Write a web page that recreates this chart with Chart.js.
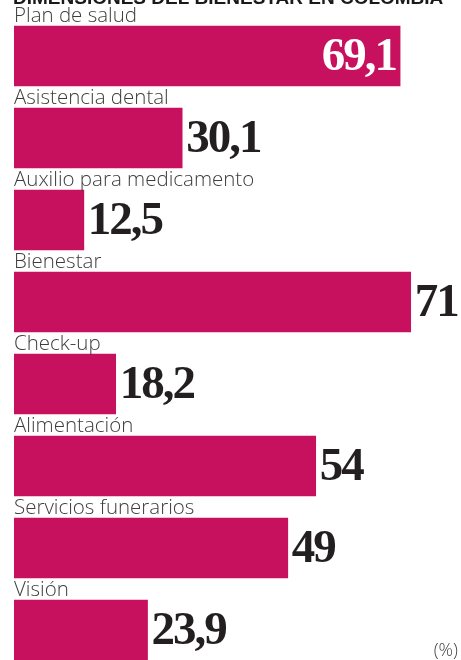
<!DOCTYPE html>
<html>
<head>
<meta charset="utf-8">
<script src="https://cdn.jsdelivr.net/npm/chart.js@4/dist/chart.umd.min.js"></script>
<style>
  html, body { margin: 0; padding: 0; background: #fff; overflow: hidden; }
  #wrap { width: 461px; height: 660px; overflow: hidden; position: relative; }
  canvas { display: block; }
</style>
</head>
<body>
<div id="wrap"><canvas id="c" width="461" height="680"></canvas></div>
<script>
const title = 'DIMENSIONES DEL BIENESTAR EN COLOMBIA';
const categories = ['Plan de salud', 'Asistencia dental', 'Auxilio para medicamento', 'Bienestar', 'Check-up', 'Alimentación', 'Servicios funerarios', 'Visión'];
const values = [69.1, 30.1, 12.5, 71, 18.2, 54, 49, 23.9];
const valueLabels = ['69,1', '30,1', '12,5', '71', '18,2', '54', '49', '23,9'];
const insideLabel = [true, false, false, false, false, false, false, false];
const unitNote = '(%)';

const BAR = '#c8115e';

const labelsPlugin = {
  id: 'labelsPlugin',
  afterDatasetsDraw(chart) {
    const ctx = chart.ctx;
    const meta = chart.getDatasetMeta(0);
    ctx.save();
    // title (cut off at top)
    ctx.fillStyle = '#1a1a1a';
    ctx.font = 'bold 19px "Liberation Sans", Arial, sans-serif';
    ctx.textAlign = 'left';
    ctx.textBaseline = 'alphabetic';
    ctx.fillText(title, 13, 4);
    meta.data.forEach((bar, i) => {
      const top = bar.y - bar.height / 2;
      // category label above the bar
      ctx.fillStyle = '#3d3d3d';
      ctx.font = '300 20.5px "Open Sans", Lato, sans-serif';
      ctx.textAlign = 'left';
      ctx.textBaseline = 'alphabetic';
      ctx.letterSpacing = '0px';
      ctx.fillText(categories[i], bar.base, top - 4);
      // value
      ctx.font = 'bold 47px "Liberation Serif", "DejaVu Serif", serif';
      ctx.letterSpacing = '-2px';
      ctx.textBaseline = 'middle';
      if (insideLabel[i]) {
        ctx.fillStyle = '#ffffff';
        ctx.textAlign = 'right';
        ctx.fillText(valueLabels[i], bar.x - 4, bar.y + 2);
      } else {
        ctx.fillStyle = '#231f20';
        ctx.textAlign = 'left';
        ctx.fillText(valueLabels[i], bar.x + 4, bar.y + 2);
      }
    });
    ctx.letterSpacing = '0px';
    ctx.fillStyle = '#444';
    ctx.font = '300 18px "Open Sans", Lato, sans-serif';
    ctx.textAlign = 'right';
    ctx.textBaseline = 'alphabetic';
    ctx.fillText(unitNote, 458, 656);
    ctx.restore();
  }
};

new Chart(document.getElementById('c'), {
  type: 'bar',
  data: {
    labels: categories,
    datasets: [{
      data: values,
      backgroundColor: BAR,
      borderWidth: 0,
      barThickness: 60
    }]
  },
  options: {
    indexAxis: 'y',
    responsive: false,
    animation: false,
    layout: { padding: { left: 14, right: 0, top: 15, bottom: 9 } },
    scales: {
      x: { display: false, min: 0, max: 80 },
      y: { display: false, offset: true }
    },
    plugins: {
      legend: { display: false },
      tooltip: { enabled: false },
      title: { display: false }
    }
  },
  plugins: [labelsPlugin]
});
</script>
</body>
</html>
